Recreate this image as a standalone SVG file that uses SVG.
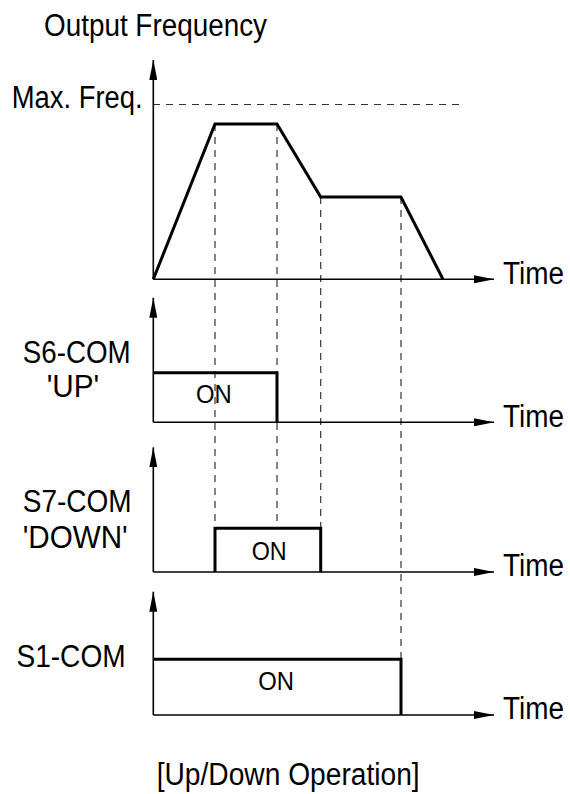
<svg xmlns="http://www.w3.org/2000/svg" width="570" height="794" viewBox="0 0 570 794">
<style>
text{font-family:"Liberation Sans",Arial,Helvetica,sans-serif;fill:#000}
.lbl{font-size:31px}
.on{font-size:26.5px}
.axis{stroke:#000;stroke-width:1.6;fill:none}
.thick{stroke:#000;stroke-width:3;fill:none;stroke-linejoin:miter}
.dash{stroke:#333;stroke-width:1.2;stroke-dasharray:7 6;fill:none}
</style>
<defs>
<marker id="ah" viewBox="0 0 20 8" refX="20" refY="4" markerWidth="20" markerHeight="8" markerUnits="userSpaceOnUse" orient="auto">
<path d="M0,0 L20,4 L0,8 Z" fill="#000"/>
</marker>
</defs>
<g id="connectors">
<line class="dash" x1="153" y1="104.5" x2="464" y2="104.5"/>
<line class="dash" x1="215" y1="124" x2="215" y2="528"/>
<line class="dash" x1="277" y1="124" x2="277" y2="528"/>
<line class="dash" x1="320.7" y1="197" x2="320.7" y2="528"/>
<line class="dash" x1="401" y1="197" x2="401" y2="659"/>
</g>
<g id="output-frequency">
<text class="lbl" x="44" y="35.5" textLength="223" lengthAdjust="spacingAndGlyphs">Output Frequency</text>
<text class="lbl" x="11.7" y="108.3" textLength="131" lengthAdjust="spacingAndGlyphs">Max. Freq.</text>
<line class="axis" x1="153.3" y1="279.3" x2="153.3" y2="60" marker-end="url(#ah)"/>
<line class="axis" x1="153.3" y1="279.3" x2="494" y2="279.3" marker-end="url(#ah)"/>
<polyline class="thick" points="153.3,279.3 215,124 277,124 320.7,197 401,197 443,279.3"/>
<text class="lbl" x="503" y="283.5" textLength="61" lengthAdjust="spacingAndGlyphs">Time</text>
</g>
<g id="s6-com">
<text class="lbl" x="22.7" y="362.7" textLength="108" lengthAdjust="spacingAndGlyphs">S6-COM</text>
<text class="lbl" x="46.7" y="396.7" textLength="52.6" lengthAdjust="spacingAndGlyphs">'UP'</text>
<line class="axis" x1="153.3" y1="422.3" x2="153.3" y2="297.7" marker-end="url(#ah)"/>
<line class="axis" x1="153.3" y1="422.3" x2="494" y2="422.3" marker-end="url(#ah)"/>
<polyline class="thick" points="153.3,372.7 277,372.7 277,422.3"/>
<text class="on" x="196" y="403.3" textLength="35.7" lengthAdjust="spacingAndGlyphs">ON</text>
<text class="lbl" x="503" y="426.5" textLength="61" lengthAdjust="spacingAndGlyphs">Time</text>
</g>
<g id="s7-com">
<text class="lbl" x="22.7" y="511.7" textLength="109" lengthAdjust="spacingAndGlyphs">S7-COM</text>
<text class="lbl" x="22.7" y="547.7" textLength="105" lengthAdjust="spacingAndGlyphs">'DOWN'</text>
<line class="axis" x1="153.3" y1="572" x2="153.3" y2="447.3" marker-end="url(#ah)"/>
<line class="axis" x1="153.3" y1="572" x2="494" y2="572" marker-end="url(#ah)"/>
<polyline class="thick" points="215,572 215,528.3 320.7,528.3 320.7,572"/>
<text class="on" x="251.7" y="560" textLength="35" lengthAdjust="spacingAndGlyphs">ON</text>
<text class="lbl" x="503" y="576" textLength="61" lengthAdjust="spacingAndGlyphs">Time</text>
</g>
<g id="s1-com">
<text class="lbl" x="16.4" y="667" textLength="109.3" lengthAdjust="spacingAndGlyphs">S1-COM</text>
<line class="axis" x1="153.3" y1="715" x2="153.3" y2="591.7" marker-end="url(#ah)"/>
<line class="axis" x1="153.3" y1="715" x2="494" y2="715" marker-end="url(#ah)"/>
<polyline class="thick" points="153.3,659.3 401,659.3 401,715"/>
<text class="on" x="258.3" y="690" textLength="35.7" lengthAdjust="spacingAndGlyphs">ON</text>
<text class="lbl" x="503" y="719" textLength="61" lengthAdjust="spacingAndGlyphs">Time</text>
</g>
<g id="caption">
<text class="lbl" x="156.7" y="785" textLength="263" lengthAdjust="spacingAndGlyphs">[Up/Down Operation]</text>
</g>
</svg>
